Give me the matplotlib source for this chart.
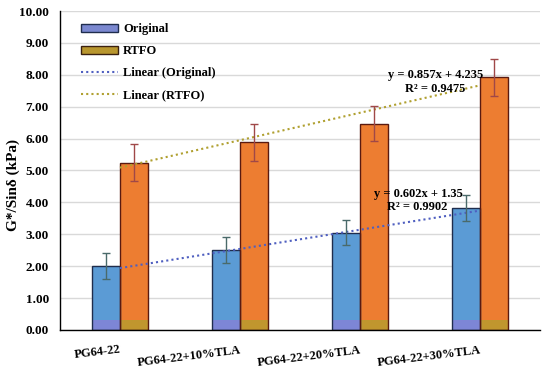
import numpy as np
import matplotlib
matplotlib.use("Agg")
import matplotlib.pyplot as plt
from matplotlib.patches import Patch
from matplotlib.lines import Line2D

# Data.
categories = ["PG64-22", "PG64-22+10%TLA", "PG64-22+20%TLA", "PG64-22+30%TLA"]
original = [2.00, 2.50, 3.05, 3.82]
original_err = [0.40, 0.40, 0.40, 0.40]
rtfo = [5.25, 5.88, 6.47, 7.92]
rtfo_err = [0.57, 0.57, 0.55, 0.57]
yticks = [0, 1, 2, 3, 4, 5, 6, 7, 8, 9, 10]

plt.rcParams["font.family"] = ["Liberation Serif", "DejaVu Serif"]
plt.rcParams["font.weight"] = "bold"

fig = plt.figure(figsize=(5.5, 3.73), dpi=100)
ax = fig.add_axes([0.109, 0.1153, 0.873, 0.8552])

x = np.arange(1, len(categories) + 1)
w = 0.233

# Bars (with a slightly tinted bottom band, like the gradient in the original).
ax.bar(x - w/2, original, w, color="#5B9BD5", linewidth=0, zorder=2)
ax.bar(x + w/2, rtfo, w, color="#ED7D31", linewidth=0, zorder=2)
ax.bar(x - w/2, [0.3]*4, w, color="#7D86D6", linewidth=0, zorder=2.1)
ax.bar(x + w/2, [0.3]*4, w, color="#C0962E", linewidth=0, zorder=2.1)
ax.bar(x - w/2, original, w, fill=False, edgecolor="#1F2D4D", linewidth=1.0, zorder=2.2)
ax.bar(x + w/2, rtfo, w, fill=False, edgecolor="#5A1A10", linewidth=1.0, zorder=2.2)

ax.errorbar(x - w/2, original, yerr=original_err, fmt="none", ecolor="#4A6A6A",
            elinewidth=1.0, capsize=3, capthick=1.0, zorder=4)
ax.errorbar(x + w/2, rtfo, yerr=rtfo_err, fmt="none", ecolor="#A04848",
            elinewidth=1.0, capsize=3, capthick=1.0, zorder=4)

# Linear trendlines.
po = np.polyfit(x, original, 1)
pr = np.polyfit(x, rtfo, 1)
xl = np.array([1, 4])
ax.plot(xl, np.polyval(po, xl), linestyle=(0, (1, 1.5)), color="#4F5FC0", linewidth=1.5, zorder=3)
ax.plot(xl, np.polyval(pr, xl), linestyle=(0, (1, 1.5)), color="#B0A030", linewidth=1.5, zorder=3)

ax.text(3.63, 7.98, "y = 0.857x + 4.235", ha="center", va="center", fontsize=9, fontweight="bold", zorder=5)
ax.text(3.63, 7.56, "R² = 0.9475", ha="center", va="center", fontsize=9, fontweight="bold", zorder=5)
ax.text(3.49, 4.25, "y = 0.602x + 1.35", ha="center", va="center", fontsize=9, fontweight="bold", zorder=5)
ax.text(3.48, 3.86, "R² = 0.9902", ha="center", va="center", fontsize=9, fontweight="bold", zorder=5)

ax.set_xlim(0.5, 4.5)
ax.set_ylim(0, 10)
ax.set_yticks(yticks)
ax.set_yticklabels([f"{t:.2f}" for t in yticks], fontsize=9.5, fontweight="bold")
ax.set_xticks(x)
ax.set_xticklabels(categories, fontsize=9, fontweight="bold", rotation=7,
                   ha="right", va="top", rotation_mode="anchor")
ax.tick_params(axis="y", length=0, pad=8)
ax.tick_params(axis="x", length=0, pad=10)
ax.grid(axis="y", color="#D9D9D9", linewidth=1.0, zorder=0)
ax.set_axisbelow(True)
for s in ["top", "right"]:
    ax.spines[s].set_visible(False)
ax.spines["left"].set_linewidth(1.0)
ax.spines["bottom"].set_linewidth(1.0)
ax.set_ylabel("G*/Sinδ (kPa)", fontsize=11, fontweight="bold")
ax.yaxis.set_label_coords(-0.083, 0.455)

handles = [
    Patch(facecolor="#7B88D0", edgecolor="#1F2D4D", label="Original"),
    Patch(facecolor="#B8962E", edgecolor="#3A2010", label="RTFO"),
    Line2D([], [], linestyle=(0, (1, 1.5)), color="#4F5FC0", linewidth=1.5, label="Linear (Original)"),
    Line2D([], [], linestyle=(0, (1, 1.5)), color="#B0A030", linewidth=1.5, label="Linear (RTFO)"),
]
ax.legend(handles=handles, loc="upper left", bbox_to_anchor=(0.025, 0.99), frameon=False,
          fontsize=9, handlelength=3.0, handleheight=0.6, handletextpad=0.4,
          labelspacing=0.8, borderaxespad=0.3)

plt.savefig("out.png", dpi=100)
